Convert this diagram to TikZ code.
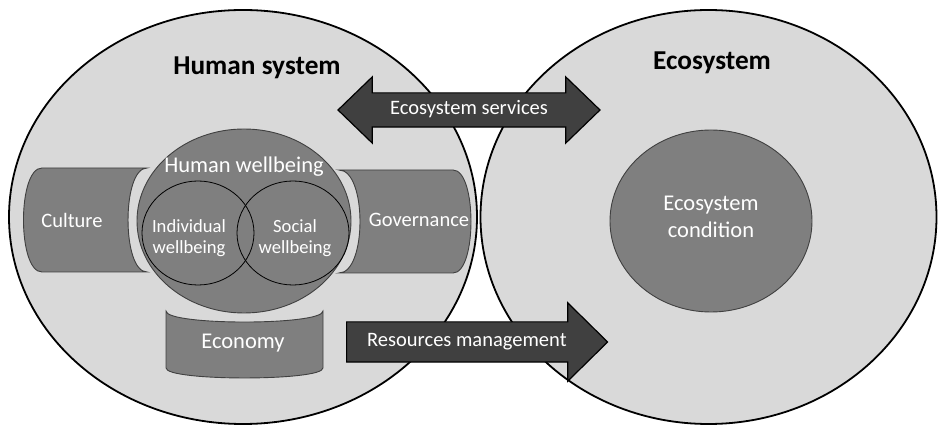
\documentclass[tikz,border=0pt]{standalone}
\usepackage{fontspec}
\setmainfont{Carlito}
\usetikzlibrary{shapes.arrows}
\definecolor{lightgrey}{RGB}{217,217,217}
\definecolor{midgrey}{RGB}{127,127,127}
\definecolor{darkgrey}{RGB}{64,64,64}

\tikzset{
  sysline/.style={draw=black, line width=1.8pt, fill=lightgrey},
  part/.style={draw=darkgrey, line width=0.9pt, fill=midgrey},
  title/.style={font=\fontsize{27.3}{30}\selectfont\bfseries},
  partlabel/.style={text=white, font=\fontsize{20.5}{24}\selectfont},
  biglabel/.style={text=white, align=center, font=\fontsize{22.5}{27}\selectfont},
  smalllabel/.style={text=white, align=center, font=\fontsize{18.6}{21}\selectfont},
  flow/.style={draw=black, line width=1.2pt, fill=darkgrey, text=white,
               font=\fontsize{20.5}{24}\selectfont, text height=14pt, text depth=4.5pt}
}

\begin{document}
\begin{tikzpicture}[x=1pt, y=-1pt]
  \useasboundingbox (0,0) rectangle (938,427);
  % the two systems
  \filldraw[sysline] (243.0,217.0) ellipse (234 and 207);
  \filldraw[sysline] (708.5,217.0) ellipse (228 and 207);
  \node[title] (human)  at (257,68) {Human system};
  \node[title] (eco)    at (712,63) {Ecosystem};
  % parts of the human system
  \filldraw[part] (42,168) -- (147,168) .. controls (121.7,168) and (121.7,272) .. (147,272)
                  -- (42,272) .. controls (17.3,272) and (17.3,168) .. (42,168) -- cycle;
  \filldraw[part] (339,170) -- (453,170) .. controls (477,170) and (477,273) .. (453,273)
                  -- (339,273) .. controls (367,273) and (367,170) .. (339,170) -- cycle;
  \filldraw[part] (166,311) .. controls (166,325.7) and (323,325.7) .. (323,311)
                  -- (323,368) .. controls (323,381.3) and (166,381.3) .. (166,368) -- cycle;
  \node[partlabel] (culture)    at (72,220)  {Culture};
  \node[partlabel] (governance) at (419,220) {Governance};
  \node[biglabel]  (economy)    at (243,343) {Economy};
  % wellbeing
  \filldraw[part] (244,221) ellipse (107 and 92);
  \draw[black, line width=0.8pt] (198,233) ellipse (56 and 52);
  \draw[black, line width=0.8pt] (293,233) ellipse (56 and 52);
  \node[biglabel]   (wellbeing)  at (244,167) {Human wellbeing};
  \node[smalllabel] (individual) at (189,238) {Individual\\wellbeing};
  \node[smalllabel] (social)     at (295,238) {Social\\wellbeing};
  % ecosystem condition
  \filldraw[part] (711,221) ellipse (101 and 91);
  \node[biglabel] (condition) at (711,217) {Ecosystem\\condition};
  % flows between the systems
  \node[double arrow, flow, double arrow head extend=16pt, double arrow tip angle=88,
        minimum height=262pt, inner ysep=7.25pt] (services) at (469,110) {Ecosystem services};
  \node[single arrow, flow, single arrow head extend=19pt, single arrow tip angle=89,
        minimum height=261pt, inner ysep=10.25pt, anchor=tail] (resources) at (346,342) {Resources management};
\end{tikzpicture}
\end{document}
